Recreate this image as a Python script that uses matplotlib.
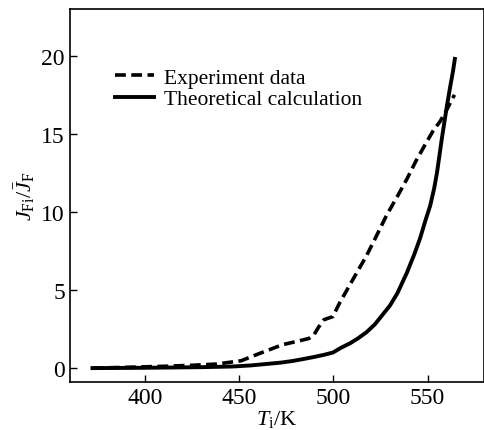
import matplotlib
matplotlib.use("Agg")
import matplotlib.pyplot as plt

plt.rcParams['font.family'] = 'Liberation Serif'
plt.rcParams['mathtext.fontset'] = 'custom'
plt.rcParams['mathtext.rm'] = 'Liberation Serif'
plt.rcParams['mathtext.it'] = 'Liberation Serif:italic'

# experiment data (dashed)
exp_T = [372, 390, 411, 425, 438, 451, 461, 473, 482, 487, 489.5, 492, 495, 499.7, 503.4, 510, 517.6,
         523, 528.3, 534, 539, 544, 549.6, 553, 556.7, 560, 564.3]
exp_J = [0.0, 0.05, 0.12, 0.18, 0.26, 0.47, 0.95, 1.5, 1.75, 1.9, 2.1, 2.6, 3.1, 3.3, 4.2, 5.6, 7.2,
         8.5, 9.8, 11.0, 12.1, 13.3, 14.5, 15.2, 15.8, 16.5, 17.5]

# theoretical calculation (solid)
th_T = [372, 400, 430, 446, 456, 464, 472, 478, 484, 490, 495, 499.8, 504, 509, 513, 517.6, 522, 526,
        530, 534, 539, 543, 546, 549, 551.4, 553.5, 555, 557.6, 560.3, 562, 563.5, 564.5]
th_J = [0.0, 0.02, 0.06, 0.1, 0.17, 0.26, 0.35, 0.45, 0.58, 0.72, 0.85, 1.0, 1.3, 1.6, 1.9, 2.3, 2.8, 3.4,
        4.0, 4.8, 6.1, 7.3, 8.3, 9.5, 10.4, 11.5, 12.5, 14.7, 16.8, 18.0, 19.0, 19.8]

fig = plt.figure(figsize=(4.85, 4.31), dpi=100)
ax = fig.add_axes([0.144, 0.111, 0.854, 0.866])

ax.plot(exp_T, exp_J, color='black', lw=2.6, ls=(0, (3, 1.5)), label='Experiment data')
ax.plot(th_T, th_J, color='black', lw=2.8, label='Theoretical calculation')

ax.set_xlim(360, 580)
ax.set_ylim(-0.9, 23)
ax.set_xticks([400, 450, 500, 550])
ax.set_yticks([0, 5, 10, 15, 20])
ax.tick_params(direction='in', labelsize=17, length=5, width=1, top=False, right=False)
for s in ax.spines.values():
    s.set_linewidth(1.2)

ax.set_xlabel(r'$T_\mathrm{i}$/K', fontsize=16, labelpad=0)
ax.set_ylabel(r'$J_\mathrm{Fi}/\bar{J}_\mathrm{F}$', fontsize=16, labelpad=3)

ax.legend(loc='upper left', bbox_to_anchor=(0.088, 0.865), frameon=False, fontsize=15.5,
          handlelength=1.8, handletextpad=0.5, labelspacing=0.05, borderaxespad=0)

fig.savefig('out.png', dpi=100)
